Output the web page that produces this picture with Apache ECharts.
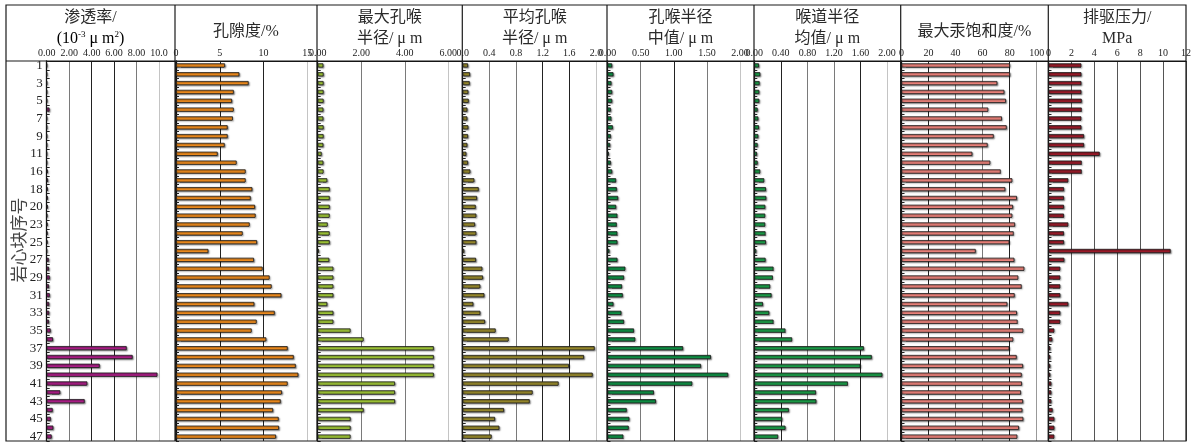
<!DOCTYPE html>
<html>
<head>
<meta charset="utf-8">
<script src="https://cdn.jsdelivr.net/npm/echarts@6/dist/echarts.min.js"></script>
<style>
  html, body { margin: 0; padding: 0; background: #fff; }
  #chart { width: 1195px; height: 443px; }
</style>
</head>
<body>
<div id="chart"></div>
<script>
// Core sample numbers (vertical category axis, top to bottom)
const sampleIds = ['1','2','3','4','5','6','7','8','9','10','11','13','16','17','18','19','20','21',
  '23','24','25','26','27','28','29','30','31','32','33','34','35','36','37','38','39','40',
  '41','42','43','44','45','46','47'];

// 渗透率 /(10^-3 μm^2)
const permeability = [0.02,0.02,0.02,0.02,0.03,0.25,0.02,0.02,0.02,0.02,0.01, 0.02,
  0.10,0.12,0.10,0.10,0.10, 0.05, 0.08,0.08,0.08,0.01,
  0.18,0.20,0.27,0.20,0.27,0.22,0.22,0.20,0.35,0.56,7.12,7.65,4.72,9.86,3.62,1.21,3.38,0.53,0.36,0.59,0.44];

// 孔隙度 /%
const porosity = [5.6,7.24,8.3,6.6,6.4,6.6,6.5,5.9,5.9,5.56,4.76, 6.93,
  7.96,7.96,8.72,8.53,9.03, 9.1, 8.42,7.62,9.26,3.7,
  8.91,9.9,10.7,10.93,12.04,8.95,11.28,9.22,8.65,10.32,12.76,13.45,13.68,13.98,12.76,12.11,11.96,11.09,11.73,11.77,11.43];

// 最大孔喉半径 /μm
const maxPoreRadius = [0.26,0.27,0.27,0.27,0.27,0.26,0.26,0.27,0.27,0.26,0.18, 0.26,
  0.27,0.44,0.55,0.55,0.55, 0.55, 0.46,0.55,0.55,0.06,
  0.53,0.72,0.72,0.72,0.72,0.44,0.72,0.72,1.51,2.11,5.33,5.33,5.33,5.33,3.55,3.55,3.55,2.11,1.51,1.51,1.51];

// 平均孔喉半径 /μm
const meanPoreRadius = [0.08,0.11,0.105,0.085,0.09,0.07,0.07,0.085,0.08,0.07,0.055, 0.08,
  0.115,0.175,0.24,0.215,0.195, 0.205, 0.185,0.205,0.205,0.025,
  0.2,0.295,0.305,0.265,0.325,0.16,0.265,0.335,0.495,0.69,1.98,1.82,1.595,1.95,1.44,1.05,1.005,0.62,0.485,0.55,0.435];

// 孔喉半径中值 /μm
const medianPoreRadius = [0.07,0.09,0.06,0.07,0.07,0.05,0.06,0.08,0.05,0.04,0.02, 0.05,
  0.07,0.13,0.14,0.16,0.13, 0.15, 0.14,0.15,0.15,0.03,
  0.15,0.27,0.25,0.22,0.23,0.09,0.21,0.25,0.40,0.42,1.14,1.56,1.41,1.82,1.28,0.70,0.73,0.29,0.33,0.32,0.24];

// 喉道半径均值 /μm
const meanThroatRadius = [0.07,0.09,0.08,0.075,0.075,0.05,0.06,0.07,0.06,0.05,0.04, 0.05,
  0.09,0.15,0.175,0.18,0.165, 0.165, 0.165,0.17,0.175,0.03,
  0.17,0.29,0.28,0.24,0.26,0.13,0.225,0.29,0.47,0.57,1.65,1.77,1.60,1.93,1.41,0.93,0.935,0.52,0.42,0.47,0.36];

// 最大汞饱和度 /%
const maxHgSaturation = [80.3,80.3,70.9,76.1,77.3,64.2,74.3,77.8,68.2,63.7,52.4, 65.7,
  73.4,82,76.8,85.4,82.5, 82, 84,83,79.8,54.9,
  83.5,90.9,86.4,88.9,83.7,78.3,85.4,85.9,90.1,82.7,79.8,85.2,89.9,88.9,89.1,88.4,89.9,89.4,90.1,86.9,85.7];

// 排驱压力 /MPa
const displacementPressure = [2.87,2.87,2.87,2.87,2.9,2.9,2.87,2.87,3.1,3.1,4.47, 2.9,
  2.9,1.73,1.35,1.35,1.35, 1.35, 1.73,1.35,1.35,10.66,
  1.38,1.03,1.03,1.03,1.03,1.73,1.03,1.03,0.51,0.33,0.16,0.16,0.16,0.16,0.25,0.25,0.25,0.36,0.51,0.51,0.51];

const SERIF = "'Liberation Serif','Noto Sans CJK SC',serif";
const D = '#222', G = '#7a7a7a', L = '#c4c4c4';

// Column layout: plot-area left/right edges, panel frame edges and axis settings
const panels = [
  { data: permeability, left: 46.7, right: 175, frameLeft: 6, max: 11.42, interval: 2,
    fmt: v => v >= 10 ? v.toFixed(1) : v.toFixed(2), color: '#B21F8C',
    grid: [D, G, D, D, G, L, D], showMax: false,
    title: ['渗透率/', 'perm'] },
  { data: porosity, left: 176, right: 317, frameLeft: 175, max: 16.11, interval: 5,
    fmt: v => String(v), color: '#F7901E', grid: [D, D, D, L, D], showMax: false,
    title: ['孔隙度/%'] },
  { data: maxPoreRadius, left: 317.7, right: 462.3, frameLeft: 317, max: 6.64, interval: 2,
    fmt: v => v.toFixed(2), color: '#A5CD39', grid: [D, G, G, L, D], showMax: false,
    title: ['最大孔喉', '半径/ μ m'] },
  { data: meanPoreRadius, left: 462.7, right: 607, frameLeft: 462.3, max: 2.165, interval: 0.4,
    fmt: v => v.toFixed(1), color: '#9E8F2E', grid: [D, G, G, D, D, L, D], showMax: false,
    title: ['平均孔喉', '半径/ μ m'] },
  { data: medianPoreRadius, left: 607.5, right: 754, frameLeft: 607, max: 2.21, interval: 0.5,
    fmt: v => v.toFixed(2), color: '#0F9648', grid: [D, G, D, G, L, D], showMax: false,
    title: ['孔喉半径', '中值/ μ m'] },
  { data: meanThroatRadius, left: 754.3, right: 900.7, frameLeft: 754, max: 2.206, interval: 0.4,
    fmt: v => v.toFixed(2), color: '#1CA34B', grid: [D, D, G, G, D, L, D], showMax: false,
    title: ['喉道半径', '均值/ μ m'] },
  { data: maxHgSaturation, left: 901.5, right: 1048.3, frameLeft: 900.7, max: 108.6, interval: 20,
    fmt: v => String(v), color: '#F5877F', grid: [D, D, G, G, D, '#999', D], showMax: false,
    title: ['最大汞饱和度/%'] },
  { data: displacementPressure, left: 1048.5, right: 1186, frameLeft: 1048.3, max: 12, interval: 2,
    fmt: v => String(v), color: '#A11C2B', grid: ['#555'], showMax: true,
    title: ['排驱压力/', 'MPa'] }
];

const TOP = 61, HEIGHT = 380, FRAME_TOP = 5, FRAME_RIGHT = 1186;

const grids = [], xAxes = [], yAxes = [], series = [];
panels.forEach((p, i) => {
  grids.push({ left: p.left, top: TOP, width: p.right - p.left, height: HEIGHT, containLabel: false });
  xAxes.push({
    gridIndex: i, type: 'value', position: 'top', min: 0, max: p.max, interval: p.interval,
    axisLine: { show: true, lineStyle: { color: '#111', width: 1 } },
    axisTick: { show: false },
    axisLabel: { margin: 3, fontSize: 10, fontFamily: SERIF, color: '#222',
      formatter: p.fmt, showMaxLabel: p.showMax, showMinLabel: true },
    splitLine: { show: true, showMinLine: true, showMaxLine: true,
      lineStyle: { color: p.grid, width: 1 } }
  });
  yAxes.push({
    gridIndex: i, type: 'category', data: sampleIds, inverse: true,
    axisLine: { show: true, lineStyle: { color: '#111', width: 1.3 } },
    axisTick: { show: true, inside: true, length: 3, interval: 0, lineStyle: { color: '#222', width: 1 } },
    axisLabel: i === 0
      ? { show: true, interval: 1, margin: 4, fontSize: 13, fontFamily: SERIF, color: '#222' }
      : { show: false },
    splitLine: { show: false }
  });
  series.push({
    type: 'bar', xAxisIndex: i, yAxisIndex: i, data: p.data, barWidth: 4.2,
    silent: true,
    itemStyle: {
      color: p.color, borderColor: '#1b1b1b', borderWidth: 0.8,
      shadowColor: 'rgba(0,0,0,0.45)', shadowBlur: 1.5, shadowOffsetX: 1, shadowOffsetY: 1
    }
  });
});

// Frame, header separator and column dividers
const graphics = [];
const lineStyle = { stroke: '#1a1a1a', lineWidth: 1.2 };
graphics.push({ type: 'rect', shape: { x: 6, y: FRAME_TOP, width: FRAME_RIGHT - 6, height: TOP + HEIGHT - FRAME_TOP },
  style: { fill: null, stroke: '#1a1a1a', lineWidth: 1.2 }, z: 100 });
graphics.push({ type: 'line', shape: { x1: 6, y1: TOP, x2: FRAME_RIGHT, y2: TOP }, style: lineStyle, z: 100 });
panels.slice(1).forEach(p => {
  graphics.push({ type: 'line', shape: { x1: p.frameLeft, y1: FRAME_TOP, x2: p.frameLeft, y2: TOP + HEIGHT },
    style: lineStyle, z: 100 });
});

// Column headers
const titleFont = "16px " + SERIF;
panels.forEach((p, i) => {
  const right = i < panels.length - 1 ? panels[i + 1].frameLeft : FRAME_RIGHT;
  const cx = (p.frameLeft + right) / 2;
  const lines = p.title;
  if (lines.length === 1) {
    graphics.push({ type: 'text', x: cx, y: 32, z: 100,
      style: { text: lines[0], font: titleFont, fill: '#2a2a2a',
        align: 'center', verticalAlign: 'middle', textAlign: 'center', textVerticalAlign: 'middle' } });
  } else {
    graphics.push({ type: 'text', x: cx, y: 18, z: 100,
      style: { text: lines[0], font: titleFont, fill: '#2a2a2a',
        align: 'center', verticalAlign: 'middle', textAlign: 'center', textVerticalAlign: 'middle' } });
    if (lines[1] === 'perm') {
      graphics.push({ type: 'text', x: cx, y: 39, z: 100,
        style: {
          text: '{a|(10}{s|-3}{a| μ m}{s|2}{a|)}',
          align: 'center', verticalAlign: 'middle', textAlign: 'center', textVerticalAlign: 'middle',
          rich: {
            a: { fontSize: 16, fontFamily: SERIF, color: '#2a2a2a', lineHeight: 18 },
            s: { fontSize: 9, fontFamily: SERIF, color: '#2a2a2a', verticalAlign: 'top', lineHeight: 18, padding: [0, 0, 6, 0] }
          }
        } });
    } else {
      graphics.push({ type: 'text', x: cx, y: 39, z: 100,
        style: { text: lines[1], font: titleFont, fill: '#2a2a2a',
          align: 'center', verticalAlign: 'middle', textAlign: 'center', textVerticalAlign: 'middle' } });
    }
  }
});

// Vertical axis name
graphics.push({ type: 'text', x: 19, y: 240, rotation: Math.PI / 2, z: 100,
  style: { text: '岩心块序号', font: "17px 'Noto Sans CJK SC'", fill: '#444',
    align: 'center', verticalAlign: 'middle', textAlign: 'center', textVerticalAlign: 'middle' } });

const chart = echarts.init(document.getElementById('chart'), null, { renderer: 'canvas' });
chart.setOption({
  animation: false,
  backgroundColor: '#fff',
  grid: grids,
  xAxis: xAxes,
  yAxis: yAxes,
  series: series,
  graphic: { elements: graphics }
});
</script>
</body>
</html>
